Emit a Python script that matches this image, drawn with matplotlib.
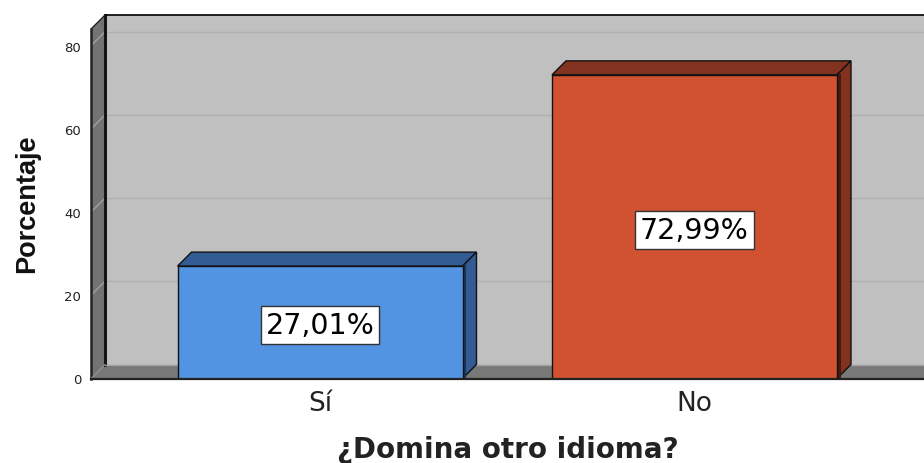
import matplotlib
matplotlib.use("Agg")
import matplotlib.pyplot as plt

categories = ["Sí", "No"]
values = [27.01, 72.99]
value_labels = ["27,01%", "72,99%"]
y_ticks = [0, 20, 40, 60, 80]
wall_top = 84

front_colors = ["#5294e2", "#d05230"]
side_colors = ["#335c94", "#83321f"]
edge_shades = ["#1d3558", "#451a10"]

W, H = 924, 464
LEFT, RIGHT, TOP, BOTTOM = 91, 924, 15, 379.5
PX_X = 374.5  # pixels per category
PX_Y = 4.16  # pixels per percent
BAR_W = 285 / PX_X
DX = 14 / PX_X
DY = 14 / PX_Y

fig = plt.figure(figsize=(W / 100, H / 100), dpi=100)
ax = fig.add_axes([LEFT / W, 1 - BOTTOM / H, (RIGHT - LEFT) / W, (BOTTOM - TOP) / H])
x0 = -(320 - LEFT) / PX_X
x1 = x0 + (RIGHT - LEFT) / PX_X
ax.set_xlim(x0, x1)
ax.set_ylim(0, (BOTTOM - TOP) / PX_Y)

for spine in ax.spines.values():
    spine.set_visible(False)

# Back wall, left wall and floor.
ax.fill([x0 + DX, x1, x1, x0 + DX], [DY, DY, wall_top + DY, wall_top + DY], color="#c0c0c0", lw=0, zorder=1)
ax.fill([x0, x0 + DX, x0 + DX, x0], [0, DY, wall_top + DY, wall_top], color="#737373", lw=0, zorder=1)
ax.fill([x0, x1, x1, x0 + DX], [0, 0, DY, DY], color="#787878", lw=0, zorder=1)

# Grid lines.
for tick in y_ticks[1:]:
    ax.plot([x0 + DX, x1], [tick + DY, tick + DY], color="#b0b0b0", lw=1, zorder=2)
    ax.plot([x0, x0 + DX], [tick, tick + DY], color="#a0a0a0", lw=1, zorder=2)

# Wall outlines.
ax.plot([x0 + DX, x0 + DX], [DY, wall_top + DY], color="#151515", lw=2.2, zorder=3)
ax.plot([x0 + DX, x1], [wall_top + DY, wall_top + DY], color="black", lw=1.2, zorder=3, clip_on=False)
ax.plot([x0, x0 + DX], [wall_top, wall_top + DY], color="#222222", lw=1, zorder=3)
ax.plot([x0, x0], [0, wall_top], color="#222222", lw=1.8, zorder=3, clip_on=False)
ax.plot([x0, x0 + DX], [0, DY], color="#8c8c8c", lw=0.8, zorder=3)
ax.plot([x0 + DX, x1], [DY, DY], color="#a0a0a0", lw=1, zorder=3)
ax.plot([x0, x1], [0, 0], color="#222222", lw=1.6, zorder=8, clip_on=False)

# Bars with their 3D side and top faces.
for i, value in enumerate(values):
    left = i - BAR_W / 2
    right = i + BAR_W / 2
    ax.fill([left, left + DX, right + DX, right], [value, value + DY, value + DY, value],
            facecolor=side_colors[i], edgecolor="#111111", lw=1, zorder=4)
    ax.fill([right, right + DX, right + DX, right], [0, DY, value + DY, value],
            facecolor=side_colors[i], edgecolor="#111111", lw=1, zorder=4)
    ax.plot([right + 1.5 / PX_X] * 2, [0, value], color=edge_shades[i], lw=2.2, zorder=4.5)
    ax.bar(i, value, width=BAR_W, color=front_colors[i], edgecolor="#111111", linewidth=1, zorder=5)
    ax.text(i, value / 2, value_labels[i], ha="center", va="center_baseline", fontsize=20.5,
            family="DejaVu Sans", color="black", zorder=6,
            bbox=dict(boxstyle="square,pad=0.17", facecolor="white", edgecolor="#333333", linewidth=1))

ax.set_xticks(range(len(categories)))
ax.set_xticklabels(categories, fontsize=19, family="DejaVu Sans", color="#222222")
ax.set_yticks(y_ticks)
ax.set_yticklabels(y_ticks, fontsize=9.5, family="DejaVu Sans", color="#222222")
ax.tick_params(axis="both", length=0)
ax.tick_params(axis="x", pad=8.5)
ax.tick_params(axis="y", pad=7)

fig.text(508 / W, 1 - 450 / H, "¿Domina otro idioma?", ha="center", va="center",
         fontsize=20, fontweight="bold", family="DejaVu Sans", color="#222222")
fig.text(27 / W, 1 - 204 / H, "Porcentaje", ha="center", va="center", rotation=90,
         fontsize=19.5, fontweight="bold", family=["Liberation Sans Narrow", "Liberation Sans"], color="#111111")

fig.savefig("out.png", dpi=100)
plt.close(fig)
